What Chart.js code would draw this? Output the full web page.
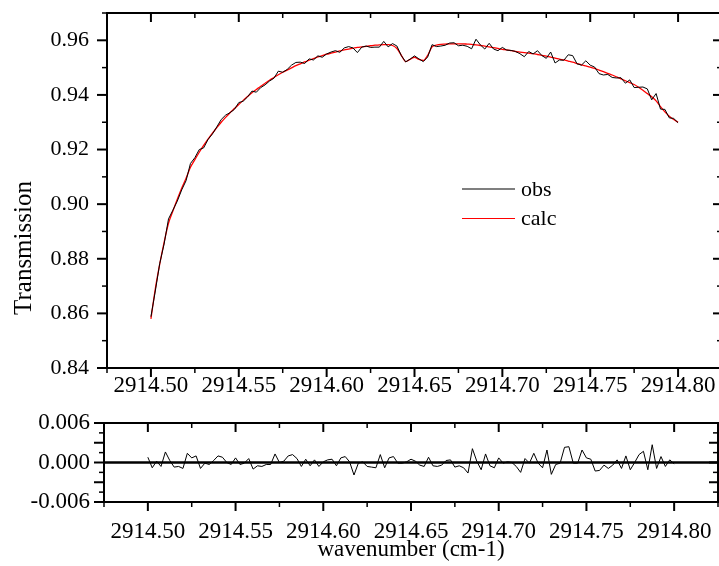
<!DOCTYPE html>
<html>
<head>
<meta charset="utf-8">
<script src="https://cdn.jsdelivr.net/npm/chart.js@4.4.1/dist/chart.umd.min.js"></script>
<style>
  html, body { margin: 0; padding: 0; background: #fff; overflow: hidden; width: 719px; height: 566px; }
  #trans { position: absolute; left: 0; top: 0; }
  #resid { position: absolute; left: 0; top: 400px; }
</style>
</head>
<body>
<canvas id="trans" width="724" height="400"></canvas>
<canvas id="resid" width="719" height="166"></canvas>
<script>
// spectrum sampled every 0.0025 cm-1 from 2914.500 to 2914.800
const startWn = 2914.5;
const stepWn = 0.0025;

const calc = [
  0.8580, 0.8690, 0.8780, 0.8860, 0.8930, 0.8975, 0.9018, 0.9058, 0.9095, 0.9135,
  0.9163, 0.9190, 0.9215, 0.9238, 0.9260, 0.9280, 0.9300, 0.9318, 0.9335, 0.9350,
  0.9365, 0.9380, 0.9394, 0.9408, 0.9420, 0.9432, 0.9443, 0.9454, 0.9464, 0.9474,
  0.9483, 0.9491, 0.9499, 0.9507, 0.9514, 0.9521, 0.9527, 0.9533, 0.9539, 0.9544,
  0.9549, 0.9553, 0.9557, 0.9561, 0.9565, 0.9568, 0.9571, 0.9574, 0.9576, 0.9578,
  0.9580, 0.9582, 0.9583, 0.9584, 0.9584, 0.9581, 0.9570, 0.9545, 0.9522, 0.9530,
  0.9538, 0.9530, 0.9526, 0.9545, 0.9576, 0.9582, 0.9585, 0.9586, 0.9587, 0.9587,
  0.9587, 0.9587, 0.9586, 0.9585, 0.9583, 0.9581, 0.9579, 0.9576, 0.9573, 0.9570,
  0.9567, 0.9565, 0.9562, 0.9559, 0.9557, 0.9555, 0.9553, 0.9551, 0.9548, 0.9545,
  0.9542, 0.9538, 0.9535, 0.9531, 0.9528, 0.9524, 0.9520, 0.9515, 0.9510, 0.9506,
  0.9502, 0.9497, 0.9491, 0.9485, 0.9479, 0.9473, 0.9466, 0.9459, 0.9452, 0.9445,
  0.9438, 0.9428, 0.9417, 0.9405, 0.9393, 0.9378, 0.9357, 0.9338, 0.9322, 0.9310,
  0.9300
];

const obs = [
  0.8588, 0.8682, 0.8782, 0.8854, 0.8946, 0.8978, 0.9011, 0.9052, 0.9086, 0.9149,
  0.9170, 0.9200, 0.9206, 0.9237, 0.9257, 0.9283, 0.9310, 0.9326, 0.9335, 0.9347,
  0.9372, 0.9377, 0.9393, 0.9414, 0.9410, 0.9427, 0.9437, 0.9451, 0.9461, 0.9487,
  0.9483, 0.9493, 0.9509, 0.9519, 0.9520, 0.9515, 0.9532, 0.9528, 0.9543, 0.9538,
  0.9550, 0.9557, 0.9562, 0.9556, 0.9572, 0.9577, 0.9572, 0.9555, 0.9575, 0.9579,
  0.9574, 0.9575, 0.9575, 0.9596, 0.9576, 0.9588, 0.9579, 0.9544, 0.9521, 0.9531,
  0.9543, 0.9532, 0.9522, 0.9539, 0.9584, 0.9577, 0.9579, 0.9582, 0.9590, 0.9591,
  0.9580, 0.9582, 0.9578, 0.9569, 0.9604, 0.9583, 0.9568, 0.9589, 0.9568, 0.9562,
  0.9574, 0.9564, 0.9563, 0.9559, 0.9551, 0.9540, 0.9559, 0.9550, 0.9562, 0.9544,
  0.9534, 0.9557, 0.9517, 0.9528, 0.9527, 0.9547, 0.9544, 0.9514, 0.9509, 0.9525,
  0.9509, 0.9502, 0.9478, 0.9473, 0.9475, 0.9464, 0.9462, 0.9463, 0.9443, 0.9455,
  0.9427, 0.9428, 0.9429, 0.9422, 0.9382, 0.9405, 0.9348, 0.9347, 0.9316, 0.9314,
  0.9298
];

const resid = [
   0.0008, -0.0008,  0.0002, -0.0006,  0.0016,  0.0003, -0.0007, -0.0006, -0.0009,  0.0014,
   0.0007,  0.0010, -0.0009, -0.0001, -0.0003,  0.0003,  0.0010,  0.0008,  0.0000, -0.0003,
   0.0007, -0.0003, -0.0001,  0.0006, -0.0010, -0.0005, -0.0006, -0.0003, -0.0003,  0.0013,
   0.0000,  0.0002,  0.0010,  0.0012,  0.0006, -0.0006,  0.0005, -0.0005,  0.0004, -0.0006,
   0.0001,  0.0004,  0.0005, -0.0005,  0.0007,  0.0009,  0.0001, -0.0019, -0.0001,  0.0001,
  -0.0006, -0.0007, -0.0008,  0.0012, -0.0008,  0.0007,  0.0009, -0.0001, -0.0001,  0.0001,
   0.0005,  0.0002, -0.0004, -0.0006,  0.0008, -0.0005, -0.0006, -0.0004,  0.0003,  0.0004,
  -0.0007, -0.0005, -0.0008, -0.0016,  0.0021,  0.0002, -0.0011,  0.0013, -0.0005, -0.0008,
   0.0007, -0.0001,  0.0001,  0.0000, -0.0006, -0.0015,  0.0006, -0.0001,  0.0014, -0.0001,
  -0.0008,  0.0019, -0.0018, -0.0003, -0.0001,  0.0023,  0.0024, -0.0001, -0.0001,  0.0019,
   0.0007,  0.0005, -0.0013, -0.0012, -0.0004, -0.0009, -0.0004,  0.0004, -0.0009,  0.0010,
  -0.0011,  0.0000,  0.0012,  0.0017, -0.0011,  0.0027, -0.0009,  0.0009, -0.0006,  0.0004,
  -0.0002
];

const wnTicks = [2914.50, 2914.55, 2914.60, 2914.65, 2914.70, 2914.75, 2914.80];
const wnMinor = [2914.475, 2914.525, 2914.575, 2914.625, 2914.675, 2914.725, 2914.775, 2914.825];
const transTicks = [0.84, 0.86, 0.88, 0.90, 0.92, 0.94, 0.96];
const transMinor = [0.85, 0.87, 0.89, 0.91, 0.93, 0.95, 0.97];
const residTicks = [-0.006, -0.003, 0, 0.003, 0.006];
const residMinor = [-0.0045, -0.0015, 0.0015, 0.0045];

const wavenumber = calc.map((_, i) => startWn + i * stepWn);
const pts = (arr) => arr.map((v, i) => ({ x: wavenumber[i], y: v }));

const FONT = 'Liberation Serif';

// Origin-style frame: ticks on all four sides, legend drawn as lines + text
const frame = {
  id: 'frame',
  beforeDatasetsDraw(chart, args, o) {
    if (o.zero === undefined) return;
    const { ctx, chartArea: a } = chart;
    const py = chart.scales.y.getPixelForValue(o.zero);
    ctx.save();
    ctx.strokeStyle = '#000';
    ctx.lineWidth = 2.5;
    ctx.beginPath();
    ctx.moveTo(a.left, py);
    ctx.lineTo(a.right, py);
    ctx.stroke();
    ctx.restore();
  },
  afterDatasetsDraw(chart, args, o) {
    const { ctx, chartArea: a } = chart;
    const sx = chart.scales.x, sy = chart.scales.y;
    ctx.save();
    ctx.strokeStyle = '#000';
    const seg = (x1, y1, x2, y2, w) => {
      ctx.lineWidth = w;
      ctx.beginPath();
      ctx.moveTo(x1, y1);
      ctx.lineTo(x2, y2);
      ctx.stroke();
    };
    wnTicks.forEach((v) => {
      const px = sx.getPixelForValue(v);
      seg(px, a.bottom, px, a.bottom + 9, 2);
      seg(px, a.top, px, a.top + 9, 2);
    });
    wnMinor.forEach((v) => {
      const px = sx.getPixelForValue(v);
      seg(px, a.bottom, px, a.bottom + 5, 1.5);
      seg(px, a.top, px, a.top + 5, 1.5);
    });
    o.yMajor.forEach((v) => {
      const py = sy.getPixelForValue(v);
      seg(a.left - 10, py, a.left, py, 2);
      seg(a.right - 9, py, a.right, py, 2);
    });
    o.yMinor.forEach((v) => {
      const py = sy.getPixelForValue(v);
      seg(a.left - 5, py, a.left, py, 1.5);
      seg(a.right - 5, py, a.right, py, 1.5);
    });
    ctx.lineWidth = 2;
    ctx.strokeRect(a.left, a.top, a.right - a.left, a.bottom - a.top);

    ctx.fillStyle = '#000';
    if (o.yTitle) {
      ctx.save();
      ctx.font = '25px "' + FONT + '"';
      ctx.textAlign = 'center';
      ctx.textBaseline = 'middle';
      ctx.translate(o.yTitle.x, o.yTitle.y);
      ctx.rotate(-Math.PI / 2);
      ctx.fillText(o.yTitle.text, 0, 0);
      ctx.restore();
    }

    if (o.legend) {
      ctx.font = '22px "' + FONT + '"';
      ctx.textBaseline = 'middle';
      chart.data.datasets.forEach((ds, i) => {
        const ly = o.legend.y + i * o.legend.gap;
        ctx.strokeStyle = ds.borderColor;
        seg(o.legend.x, ly, o.legend.x + 53, ly, 1.2);
        ctx.fillText(ds.label, o.legend.x + 59, ly + 1);
      });
    }
    ctx.restore();
  }
};

const xScale = (height, pad, title) => ({
  type: 'linear',
  min: 2914.475,
  max: 2914.825,
  grid: { display: false, drawTicks: false },
  border: { display: false },
  afterBuildTicks: (s) => { s.ticks = wnTicks.map((v) => ({ value: v })); },
  afterFit: (s) => { s.height = height; s.paddingLeft = 0; s.paddingRight = 0; },
  ticks: {
    color: '#000',
    font: { family: FONT, size: 23 },
    padding: pad,
    maxRotation: 0,
    autoSkip: false,
    callback: (v) => v.toFixed(2),
  },
  title: title
    ? { display: true, text: title, color: '#000', font: { family: FONT, size: 23 }, padding: { top: 0, bottom: 2 } }
    : { display: false },
});

new Chart(document.getElementById('trans'), {
  type: 'line',
  data: {
    datasets: [
      { label: 'obs', data: pts(obs), borderColor: '#000000', borderWidth: 1, tension: 0 },
      { label: 'calc', data: pts(calc), borderColor: '#ff0000', borderWidth: 1.3, cubicInterpolationMode: 'monotone' },
    ],
  },
  options: {
    responsive: false,
    animation: false,
    events: [],
    layout: { padding: { top: 13, right: 2, bottom: 0, left: 0 } },
    elements: { point: { radius: 0 } },
    plugins: {
      legend: { display: false },
      tooltip: { enabled: false },
      frame: {
        yMajor: transTicks,
        yMinor: transMinor,
        yTitle: { text: 'Transmission', x: 24, y: 248 },
        legend: { x: 462, y: 189, gap: 29.5 },
      },
    },
    scales: {
      x: xScale(32, 4, null),
      y: {
        min: 0.84,
        max: 0.97,
        grid: { display: false, drawTicks: false },
        border: { display: false },
        afterBuildTicks: (s) => { s.ticks = transTicks.map((v) => ({ value: v })); },
        afterFit: (s) => { s.width = 107; s.paddingTop = 0; s.paddingBottom = 0; },
        ticks: {
          color: '#000',
          font: { family: FONT, size: 22 },
          padding: 18,
          callback: (v) => v.toFixed(2),
        },
      },
    },
  },
  plugins: [frame],
});

new Chart(document.getElementById('resid'), {
  type: 'line',
  data: {
    datasets: [
      { label: 'obs - calc', data: pts(resid), borderColor: '#000000', borderWidth: 1, tension: 0 },
    ],
  },
  options: {
    responsive: false,
    animation: false,
    events: [],
    layout: { padding: { top: 23, right: 1, bottom: 0, left: 0 } },
    elements: { point: { radius: 0 } },
    plugins: {
      legend: { display: false },
      tooltip: { enabled: false },
      frame: { yMajor: residTicks, yMinor: residMinor, zero: 0 },
    },
    scales: {
      x: xScale(64, 16, 'wavenumber (cm-1)'),
      y: {
        min: -0.006,
        max: 0.006,
        grid: { display: false, drawTicks: false },
        border: { display: false },
        afterBuildTicks: (s) => { s.ticks = residTicks.map((v) => ({ value: v })); },
        afterFit: (s) => { s.width = 104; s.paddingTop = 0; s.paddingBottom = 0; },
        ticks: {
          color: '#000',
          font: { family: FONT, size: 23 },
          padding: 14,
          callback: (v) => v.toFixed(3),
        },
      },
    },
  },
  plugins: [frame],
});
</script>
</body>
</html>
